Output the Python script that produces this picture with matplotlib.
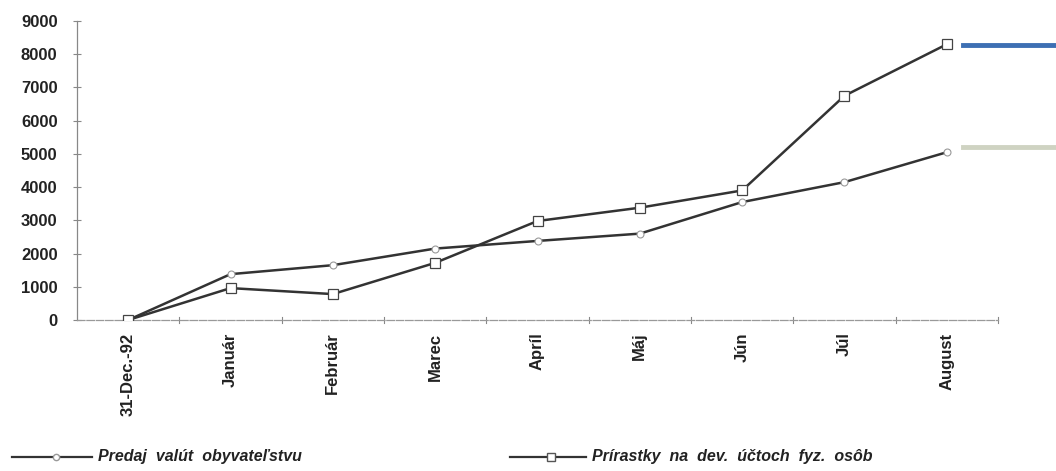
import matplotlib.pyplot as plt
from matplotlib.lines import Line2D

categories = ['31-Dec.-92', 'Január', 'Február', 'Marec', 'Apríl', 'Máj', 'Jún', 'Júl', 'August']
predaj = [0, 1380, 1650, 2150, 2380, 2600, 3550, 4150, 5050]
prirastky = [0, 960, 780, 1720, 2980, 3380, 3900, 6750, 8300]
y_ticks = [0, 1000, 2000, 3000, 4000, 5000, 6000, 7000, 8000, 9000]

plt.rcParams['font.family'] = ['Liberation Sans', 'DejaVu Sans']

fig = plt.figure(figsize=(10.56, 4.71), dpi=100)
ax = fig.add_axes([77 / 1056, 1 - 320 / 471, (998 - 77) / 1056, (320 - 21) / 471])

x = list(range(len(categories)))
line_col = '#333333'
ax.plot(x, predaj, color=line_col, lw=1.8, marker='o', ms=5,
        mfc='white', mec='#999999', mew=0.8, zorder=3)
ax.plot(x, prirastky, color=line_col, lw=1.8, marker='s', ms=6.5,
        mfc='white', mec='#444444', mew=0.9, zorder=3)

ax.set_xlim(-0.5, len(categories) - 0.5)
ax.set_ylim(0, 9000)
ax.set_yticks(y_ticks)
ax.set_yticklabels([str(v) for v in y_ticks], fontsize=12, fontweight='bold', color='#222222')
ax.set_xticks(x)
ax.set_xticklabels(categories, rotation=90, fontsize=12, fontweight='bold', color='#222222')
ax.tick_params(axis='x', length=0, pad=9)
ax.tick_params(axis='y', direction='inout', length=6, color='#888888', pad=11)
for b in [i + 0.5 for i in x]:
    ax.plot([b, b], [-80, 80], color='#888888', lw=0.8, clip_on=False)

for side in ['top', 'right']:
    ax.spines[side].set_visible(False)
ax.spines['left'].set_color('#888888')
ax.spines['bottom'].set_color('#999999')
ax.spines['bottom'].set_linestyle((0, (6, 1.5)))
ax.spines['left'].set_linewidth(0.9)
ax.spines['bottom'].set_linewidth(0.9)

# legend drawn manually at the bottom
ly = 1 - 457 / 471
fig.add_artist(Line2D([12 / 1056, 92 / 1056], [ly, ly], color=line_col, lw=1.6))
fig.add_artist(Line2D([56 / 1056], [ly], marker='o', ms=4.5, mfc='white', mec='#999999', lw=0))
fig.text(98 / 1056, ly, 'Predaj  valút  obyvateľstvu', fontsize=11.5, fontweight='bold',
         fontstyle='italic', va='center', color='#222222')
fig.add_artist(Line2D([510 / 1056, 586 / 1056], [ly, ly], color=line_col, lw=1.6))
fig.add_artist(Line2D([551 / 1056], [ly], marker='s', ms=6, mfc='white', mec='#555555', lw=0))
fig.text(592 / 1056, ly, 'Prírastky  na  dev.  účtoch  fyz.  osôb', fontsize=11.5, fontweight='bold',
         fontstyle='italic', va='center', color='#222222')

# coloured marks at the right edge of the scan
fig.add_artist(Line2D([963 / 1056, 1], [1 - 45 / 471] * 2, color='#3d6fb3', lw=3.5))
fig.add_artist(Line2D([963 / 1056, 1], [1 - 147 / 471] * 2, color='#cfd3c2', lw=3.5))

fig.savefig('out.png', dpi=100)
